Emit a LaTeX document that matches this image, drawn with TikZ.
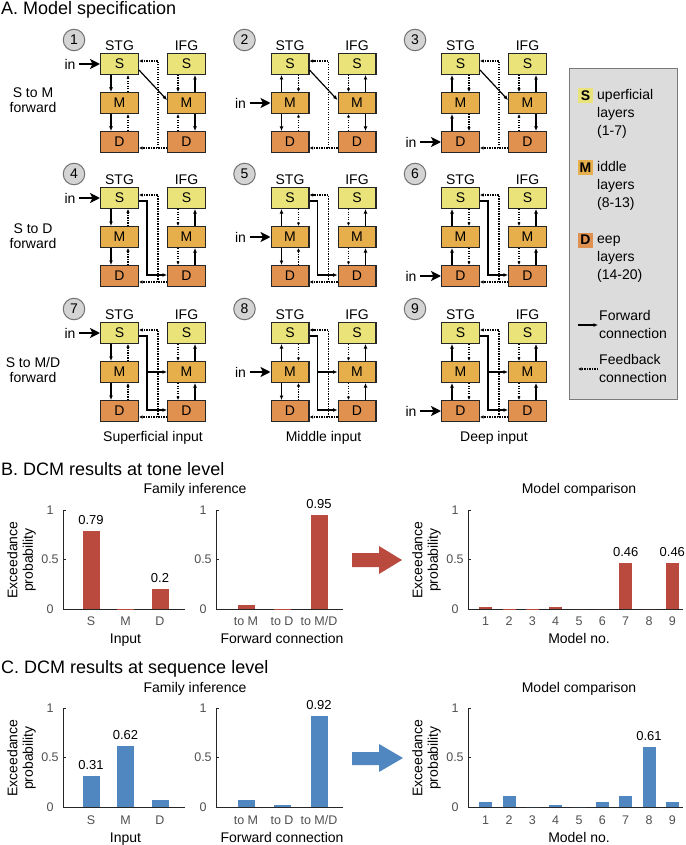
\documentclass[tikz,border=0pt]{standalone}
\usepackage{fontspec}
\setmainfont{Liberation Sans}
\usetikzlibrary{positioning,arrows.meta,calc}

\definecolor{supc}{RGB}{234,227,122}
\definecolor{midc}{RGB}{230,175,75}
\definecolor{deepc}{RGB}{224,145,80}
\definecolor{tonec}{RGB}{186,74,62}
\definecolor{seqc}{RGB}{80,135,192}
\definecolor{legc}{RGB}{220,220,220}
\definecolor{numgray}{RGB}{212,212,212}
\definecolor{axc}{RGB}{38,38,38}
\definecolor{tickc}{RGB}{80,80,80}

\tikzset{
  lay/.style={draw=black!85, line width=1.4pt, minimum width=37.6pt, minimum height=20.6pt, inner sep=0pt, font=\fontsize{14}{16}\selectfont},
  regl/.style={font=\fontsize{14}{16}\selectfont, inner sep=1pt},
  numc/.style={circle, draw=black!55, fill=numgray, line width=1pt, minimum size=21.5pt, inner sep=0pt, font=\fontsize{14}{16}\selectfont},
  fwd/.style={line width=1.2pt, -{Latex[length=4.5pt,width=4pt]}},
  fbk/.style={line width=1.2pt, dash pattern=on 1.2pt off 1.3pt, -{Latex[length=3.5pt,width=3.5pt]}},
  inarr/.style={line width=2.2pt, -{Stealth[length=10pt,width=10pt,inset=2.5pt]}},
  txt/.style={font=\fontsize{14}{15.5}\selectfont, align=center},
  hdr/.style={font=\fontsize{18}{20}\selectfont, anchor=base west, inner sep=0pt},
  legsq/.style={minimum size=15pt, inner sep=0pt, font=\fontsize{14}{16}\selectfont\bfseries},
  legtxt/.style={font=\fontsize{14}{18}\selectfont, align=left, anchor=north west, inner sep=0pt},
  axln/.style={draw=axc, line width=1pt},
  tone/.style={fill=tonec},
  seq/.style={fill=seqc},
  ticklbl/.style={font=\fontsize{12.5}{14}\selectfont, text=tickc, inner sep=0pt},
  catlbl/.style={font=\fontsize{12.5}{14}\selectfont, text=tickc, anchor=base, inner sep=0pt},
  vallbl/.style={font=\fontsize{13}{14}\selectfont, anchor=base, inner sep=0pt},
  ttl/.style={font=\fontsize{14}{16}\selectfont, anchor=base, inner sep=0pt},
  ylbl/.style={font=\fontsize{14}{15.5}\selectfont, rotate=90, align=center, inner sep=0pt},
}

% axes of one bar chart: name, x of y-axis, end of x-axis, y of zero
\newcommand{\chartframe}[4]{%
  \draw[axln] (#2,#4-99) -- (#2,#4) -- (#3,#4);
  \draw[axln] (#2,#4-99) -- ++(3,0);
  \draw[axln] (#2,#4-49.5) -- ++(3,0);
  \node[ticklbl] (#1t1) at (#2-13,#4-99) {1};
  \node[ticklbl] (#1t5) at (#2-13,#4-49.5) {0.5};
  \node[ticklbl] (#1t0) at (#2-13,#4) {0};
}

\begin{document}
\begin{tikzpicture}[x=1pt,y=-1pt]
\useasboundingbox (0,0) rectangle (685,845);

% A. model specification
\node[hdr] (hA) at (1,14.5) {A. Model specification};

\foreach \n/\cx/\cy/\il/\inp/\fw in {1/100/53/S/1/1,2/270.5/53/M/2/1,3/441/53/D/3/1,
    4/100/187/S/1/2,5/270.5/187/M/2/2,6/441/187/D/3/2,
    7/100/322/S/1/3,8/270.5/322/M/2/3,9/441/322/D/3/3}{
  \node[lay, fill=supc] (stgS\n) at (\cx+19.5,\cy+11) {S};
  \node[lay, fill=midc, below=17pt of stgS\n] (stgM\n) {M};
  \node[lay, fill=deepc, below=17pt of stgM\n] (stgD\n) {D};
  \node[lay, fill=supc, right=28pt of stgS\n] (ifgS\n) {S};
  \node[lay, fill=midc, below=17pt of ifgS\n] (ifgM\n) {M};
  \node[lay, fill=deepc, below=17pt of ifgM\n] (ifgD\n) {D};
  \node[regl, above=1pt of stgS\n] (stgL\n) {STG};
  \node[regl, above=1pt of ifgS\n] (ifgL\n) {IFG};
  \node[numc] (num\n) at (\cx-26,\cy-13) {\n};
  % input
  \coordinate (in\n) at ([xshift=-21pt]stg\il\n.west);
  \node[txt, left=0pt of in\n] (inl\n) {in};
  \draw[inarr] (in\n) -- (stg\il\n.west);
  % STG
  \ifnum\inp=1\relax
    \draw[fwd] ([xshift=-8.5pt]stgS\n.south) -- ([xshift=-8.5pt]stgM\n.north);
    \draw[fbk] ([xshift=8.5pt]stgM\n.north) -- ([xshift=8.5pt]stgS\n.south);
  \else
    \draw[fwd] ([xshift=-8.5pt]stgM\n.north) -- ([xshift=-8.5pt]stgS\n.south);
    \draw[fbk] ([xshift=8.5pt]stgS\n.south) -- ([xshift=8.5pt]stgM\n.north);
  \fi
  \ifnum\inp=3\relax
    \draw[fwd] ([xshift=-8.5pt]stgD\n.north) -- ([xshift=-8.5pt]stgM\n.south);
    \draw[fbk] ([xshift=8.5pt]stgM\n.south) -- ([xshift=8.5pt]stgD\n.north);
  \else
    \draw[fwd] ([xshift=-8.5pt]stgM\n.south) -- ([xshift=-8.5pt]stgD\n.north);
    \draw[fbk] ([xshift=8.5pt]stgD\n.north) -- ([xshift=8.5pt]stgM\n.south);
  \fi
  % IFG
  \draw[fbk] ([xshift=-8.5pt]ifgS\n.south) -- ([xshift=-8.5pt]ifgM\n.north);
  \draw[fwd] ([xshift=8.5pt]ifgM\n.north) -- ([xshift=8.5pt]ifgS\n.south);
  \ifnum\fw=1\relax
    \draw[fbk] ([xshift=-8.5pt]ifgD\n.north) -- ([xshift=-8.5pt]ifgM\n.south);
    \draw[fwd] ([xshift=8.5pt]ifgM\n.south) -- ([xshift=8.5pt]ifgD\n.north);
  \else
    \draw[fbk] ([xshift=-8.5pt]ifgM\n.south) -- ([xshift=-8.5pt]ifgD\n.north);
    \draw[fwd] ([xshift=8.5pt]ifgD\n.north) -- ([xshift=8.5pt]ifgM\n.south);
  \fi
  % feedback IFG -> STG
  \draw[fbk] ([yshift=-6pt]ifgD\n.west) -- ([yshift=-6pt]stgD\n.east);
  \draw[fbk] ([xshift=-9pt,yshift=-6pt]ifgD\n.west) |- ([yshift=3pt]stgS\n.east);
  % forward STG -> IFG
  \ifcase\fw\or
    \draw[fwd] ([yshift=-6pt]stgS\n.east) -- ([yshift=3pt]ifgM\n.west);
  \or
    \draw[fwd] ([yshift=-3pt]stgS\n.east) -- ++(8,0) |- ([yshift=1pt]ifgD\n.west);
  \or
    \draw[fwd] ([yshift=-3pt]stgS\n.east) -- ++(8,0) |- ([yshift=1pt]ifgD\n.west);
    \draw[fwd] ([xshift=8pt]stgM\n.east) -- (ifgM\n.west);
  \fi
}

\node[txt] (row1) at (33,100) {S to M\\forward};
\node[txt] (row2) at (33,236) {S to D\\forward};
\node[txt] (row3) at (33,370) {S to M/D\\forward};
\node[txt] (colS) at ($(stgD7.south)!.5!(ifgD7.south)+(0,16)$) {Superficial input};
\node[txt] (colM) at ($(stgD8.south)!.5!(ifgD8.south)+(0,16)$) {Middle input};
\node[txt] (colD) at ($(stgD9.south)!.5!(ifgD9.south)+(0,16)$) {Deep input};

% legend
\draw[draw=black!52, fill=legc, line width=1.4pt] (569.5,68.5) rectangle (677.5,399.5);
\node[legsq, fill=supc] (keyS) at (585.5,95.5) {S};
\node[legtxt] (keySt) at (597,87) {\strut uperficial\\layers\\(1-7)};
\node[legsq, fill=midc] (keyM) at (585.5,168) {M};
\node[legtxt] (keyMt) at (597,159) {\strut iddle\\layers\\(8-13)};
\node[legsq, fill=deepc] (keyD) at (585.5,240) {D};
\node[legtxt] (keyDt) at (597,231) {\strut eep\\layers\\(14-20)};
\coordinate (kf1) at (578,325);
\coordinate (kf2) at (598,325);
\draw[fwd] (kf1) -- (kf2);
\node[legtxt] (keyFt) at (599,307.5) {\strut Forward\\connection};
\coordinate (kb1) at (598,369);
\coordinate (kb2) at (578,369);
\draw[fbk] (kb1) -- (kb2);
\node[legtxt] (keyBt) at (599,351.5) {\strut Feedback\\connection};

% B. tone level
\node[hdr] (hB) at (1,475) {B. DCM results at tone level};
\node[ttl] (bfam) at (195,493) {Family inference};
\node[ttl] (bmod) at (579,493) {Model comparison};
\chartframe{bi}{63}{185}{609}
\chartframe{bf}{216}{343}{609}
\chartframe{bm}{468}{683}{609}
\node[ylbl] (byl1) at (21.5,560) {Exceedance\\probability};
\node[ylbl] (byl2) at (426.5,560) {Exceedance\\probability};
\foreach \x/\v/\t [count=\i] in {91/0.79/S,125.5/0.004/M,160/0.2/D}{
  \fill[tone] (\x-8.5,609) rectangle ++(17,-\v*99);
  \node[catlbl] (bic\i) at (\x,625) {\t};
}
\foreach \x/\v/\t [count=\i] in {246/0.045/{to M},282/0.003/{to D},319/0.95/{to M/D}}{
  \fill[tone] (\x-8.5,609) rectangle ++(17,-\v*99);
  \node[catlbl] (bfc\i) at (\x,625) {\t};
}
\foreach \v [count=\i] in {0.025,0.005,0.005,0.025,0,0,0.46,0,0.46}{
  \fill[tone] ({485.7+23.33*(\i-1)-6.5},609) rectangle ++(13,-\v*99);
  \node[catlbl] (bmc\i) at ({485.7+23.33*(\i-1)},625) {\i};
}
\node[vallbl] (biv1) at (91,609-0.79*99-6.5) {0.79};
\node[vallbl] (biv3) at (160,609-0.2*99-6.5) {0.2};
\node[vallbl] (bfv3) at (319,609-0.95*99-6.5) {0.95};
\node[vallbl] (bmv7) at (625.7,609-0.46*99-6.5) {0.46};
\node[vallbl] (bmv9) at (672.3,609-0.46*99-6.5) {0.46};
\node[ttl] (bix) at (125.5,643) {Input};
\node[ttl] (bfx) at (282,643) {Forward connection};
\node[ttl] (bmx) at (579,643) {Model no.};
\fill[tonec] (352,553) -- (379,553) -- (379,546) -- (402,560) -- (379,574) -- (379,567) -- (352,567) -- cycle;

% C. sequence level
\node[hdr] (hC) at (1,673) {C. DCM results at sequence level};
\node[ttl] (cfam) at (195,692) {Family inference};
\node[ttl] (cmod) at (579,692) {Model comparison};
\chartframe{ci}{63}{185}{807}
\chartframe{cf}{216}{343}{807}
\chartframe{cm}{468}{683}{807}
\node[ylbl] (cyl1) at (21.5,758) {Exceedance\\probability};
\node[ylbl] (cyl2) at (426.5,758) {Exceedance\\probability};
\foreach \x/\v/\t [count=\i] in {91/0.31/S,125.5/0.62/M,160/0.07/D}{
  \fill[seq] (\x-8.5,807) rectangle ++(17,-\v*99);
  \node[catlbl] (cic\i) at (\x,824) {\t};
}
\foreach \x/\v/\t [count=\i] in {246/0.07/{to M},282/0.02/{to D},319/0.92/{to M/D}}{
  \fill[seq] (\x-8.5,807) rectangle ++(17,-\v*99);
  \node[catlbl] (cfc\i) at (\x,824) {\t};
}
\foreach \v [count=\i] in {0.055,0.11,0,0.017,0,0.05,0.11,0.61,0.047}{
  \fill[seq] ({485.7+23.33*(\i-1)-6.5},807) rectangle ++(13,-\v*99);
  \node[catlbl] (cmc\i) at ({485.7+23.33*(\i-1)},824) {\i};
}
\node[vallbl] (civ1) at (91,807-0.31*99-6.5) {0.31};
\node[vallbl] (civ2) at (125.5,807-0.62*99-6.5) {0.62};
\node[vallbl] (cfv3) at (319,807-0.92*99-6.5) {0.92};
\node[vallbl] (cmv8) at (649,807-0.61*99-6.5) {0.61};
\node[ttl] (cix) at (125.5,842) {Input};
\node[ttl] (cfx) at (282,842) {Forward connection};
\node[ttl] (cmx) at (579,842) {Model no.};
\fill[seqc] (352,752) -- (379,752) -- (379,744) -- (403,758) -- (379,772) -- (379,765) -- (352,765) -- cycle;
\end{tikzpicture}
\end{document}
